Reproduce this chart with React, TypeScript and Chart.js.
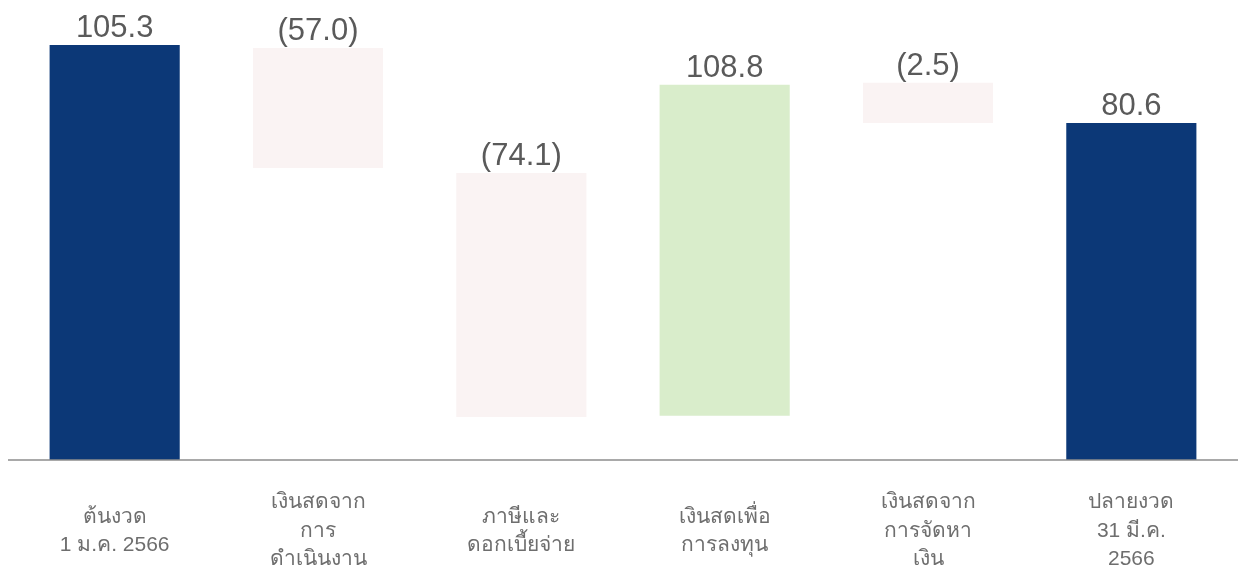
import React, { useEffect, useRef } from "react";
import { Chart, registerables } from "chart.js";

Chart.register(...registerables);

const categories: string[][] = [
  ["ต้นงวด", "1 ม.ค. 2566"],
  ["เงินสดจาก", "การ", "ดำเนินงาน"],
  ["ภาษีและ", "ดอกเบี้ยจ่าย"],
  ["เงินสดเพื่อ", "การลงทุน"],
  ["เงินสดจาก", "การจัดหา", "เงิน"],
  ["ปลายงวด", "31 มี.ค.", "2566"],
];

// floating bar extents (same units as the first bar)
const barStart: number[] = [0, 74.1, 10.9, 11.2, 85.5, 0];
const barEnd: number[] = [105.3, 104.5, 72.8, 95.2, 95.7, 85.5];
const valueLabels: string[] = ["105.3", "(57.0)", "(74.1)", "108.8", "(2.5)", "80.6"];

const barColors: string[] = ["#0c3877", "#faf3f3", "#faf3f3", "#d9edcb", "#faf3f3", "#0c3877"];

export default function App() {
  const ref = useRef<HTMLCanvasElement | null>(null);

  useEffect(() => {
    document.body.style.margin = "0";
    const canvas = ref.current;
    if (!canvas) return;

    const labelsPlugin = {
      id: "wfLabels",
      afterDatasetsDraw(chart: any) {
        const ctx = chart.ctx;
        const meta = chart.getDatasetMeta(0);
        const xScale = chart.scales.x;
        const yScale = chart.scales.y;
        const baseY = yScale.getPixelForValue(0);
        ctx.save();
        // baseline
        ctx.strokeStyle = "#8c8c8c";
        ctx.lineWidth = 1.5;
        ctx.beginPath();
        ctx.moveTo(8, baseY);
        ctx.lineTo(chart.width, baseY);
        ctx.stroke();
        // value labels
        ctx.fillStyle = "#5a5a5a";
        ctx.font = "31px 'Liberation Sans', Arial, sans-serif";
        ctx.textAlign = "center";
        ctx.textBaseline = "alphabetic";
        meta.data.forEach((bar: any, i: number) => {
          const top = Math.min(bar.y, bar.base);
          ctx.fillText(valueLabels[i], bar.x, top - 8);
        });
        // category labels
        ctx.fillStyle = "#6e6e6e";
        ctx.font = "21px 'Liberation Sans Narrow', 'Liberation Sans', sans-serif";
        ctx.textBaseline = "middle";
        const lineH = 28.5;
        const centerY = 531;
        categories.forEach((lines, i) => {
          const x = xScale.getPixelForValue(i);
          const startY = centerY - ((lines.length - 1) * lineH) / 2;
          lines.forEach((ln, j) => {
            ctx.fillText(ln, x, startY + j * lineH);
          });
        });
        ctx.restore();
      },
    };

    const chart = new Chart(canvas, {
      type: "bar",
      data: {
        labels: categories.map((c) => c.join(" ")),
        datasets: [
          {
            data: barStart.map((s, i) => [s, barEnd[i]]) as any,
            backgroundColor: barColors,
            borderWidth: 0,
            barPercentage: 0.64,
            categoryPercentage: 1,
          },
        ],
      },
      options: {
        responsive: false,
        animation: false,
        layout: { padding: { left: 13, right: 5, top: 0, bottom: 118 } },
        plugins: { legend: { display: false }, tooltip: { enabled: false } },
        scales: {
          x: { display: false, offset: true },
          y: { display: false, min: 0, max: 116.7 },
        },
      },
      plugins: [labelsPlugin],
    });

    return () => chart.destroy();
  }, []);

  return (
    <div style={{ position: "absolute", left: 0, top: 0, width: 1238, height: 578, background: "#fff" }}>
      <canvas ref={ref} width={1238} height={578} />
    </div>
  );
}
